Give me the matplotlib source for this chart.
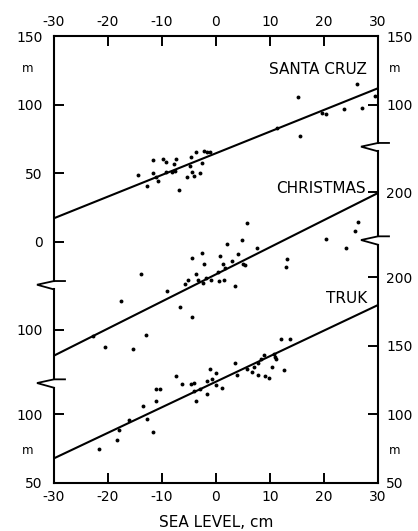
import matplotlib
matplotlib.use('Agg')
import matplotlib.pyplot as plt
from matplotlib.transforms import blended_transform_factory
import numpy as np

plt.rcParams['font.family'] = ['DejaVu Sans']
plt.rcParams['axes.unicode_minus'] = False

# ---------------- data (sea level in cm, dynamic height in m) ----------------
sc_x = [-14.4, -12.7, -11.7, -11.6, -11.2, -10.7, -9.9, -9.35, -9.3, -8.2,
        -7.7, -7.4, -7.6, -6.8, -5.4, -4.7, -4.8, -4.4, -4.1, -3.7,
        -3.0, -2.65, -2.2, -1.6, -1.2, 11.35, 15.2, 15.5, 19.7, 20.3,
        23.7, 26.2, 27.1, 29.4]
sc_y = [48.5, 40.5, 50.4, 59.3, 47.5, 44.5, 60.5, 58.0, 50.9, 50.9,
        56.9, 60.5, 51.5, 37.5, 47.2, 61.8, 55.5, 51.1, 47.7, 65.3,
        50.1, 57.4, 65.9, 65.4, 65.3, 82.9, 105.4, 76.8, 93.8, 93.3,
        96.7, 114.9, 97.4, 105.9]

ch_x = [-22.8, -20.6, -17.65, -15.3, -13.8, -13.0, -9.0, -6.7, -5.7, -5.1,
        -4.4, -4.4, -3.7, -3.3, -2.65, -2.5, -2.2, -1.9, -1.0, 0.4,
        0.6, 0.75, 1.35, 1.5, 1.75, 2.0, 2.9, 3.5, 4.0, 4.8,
        5.05, 5.4, 5.7, 7.65, 12.96, 13.2, 20.3, 24.0, 25.7, 26.35]
ch_y = [95.1, 87.1, 120.5, 85.5, 140.7, 96.2, 128.0, 116.4, 133.1, 136.5,
        109.1, 152.2, 140.6, 136.5, 155.9, 134.0, 147.6, 137.7, 136.5, 142.2,
        135.3, 153.3, 148.0, 136.0, 144.7, 162.5, 149.8, 131.6, 154.9, 165.1,
        148.1, 147.4, 177.7, 159.3, 145.7, 151.1, 165.8, 159.5, 172.0, 178.4]

tr_x = [-21.6, -18.4, -17.9, -16.2, -13.6, -12.7, -11.7, -11.1, -11.1, -10.4,
        -7.5, -6.35, -4.7, -4.1, -4.1, -3.7, -3.0, -1.7, -1.6, -1.1,
        -0.7, -0.05, 0.0, 1.2, 3.5, 3.8, 5.7, 6.6, 7.1, 7.8,
        7.8, 8.3, 8.9, 9.1, 9.8, 10.3, 10.65, 10.9, 11.1, 12.5,
        12.0, 13.7]
tr_y = [74.5, 81.1, 88.8, 95.8, 106.4, 96.5, 87.1, 109.9, 118.2, 118.5,
        128.2, 122.2, 122.0, 123.2, 117.3, 109.9, 118.9, 124.2, 114.7, 133.3,
        125.6, 130.0, 121.3, 119.6, 137.5, 128.9, 132.9, 130.7, 134.4, 128.5,
        137.5, 140.7, 143.7, 127.8, 126.4, 134.6, 144.3, 141.9, 140.2, 132.7,
        155.2, 155.2]

fit_x = [-30, 30]
sc_fit = [17.1, 111.9]
ch_fit = [81.0, 199.6]
tr_fit = [68.0, 179.8]

x_ticks = [-30, -20, -10, 0, 10, 20, 30]

# left / right axis tick values per station
sc_left_ticks = [150, 100, 50, 0]
ch_left_ticks = [100]
tr_left_ticks = [100, 50]
sc_right_ticks = [150, 100]
ch_right_ticks = [200]
tr_right_ticks = [200, 150, 100, 50]

# vertical offsets stacking the three station scales on one common axis
OFF_SC = 226.0
OFF_CH = 61.9
OFF_TR = 0.0
YMIN, YMAX = 50, 376

# ---------------- figure ----------------
W, H = 418, 531
fig = plt.figure(figsize=(W / 100, H / 100), dpi=100)
L, R, T, B = 54, 378, 36, 483
ax = fig.add_axes([L / W, 1 - B / H, (R - L) / W, (B - T) / H])
ax.set_xlim(-30, 30)
ax.set_ylim(YMIN, YMAX)

lw = 1.5
ms = 2.8

for xs, ys, fit, off in [(sc_x, sc_y, sc_fit, OFF_SC),
                         (ch_x, ch_y, ch_fit, OFF_CH),
                         (tr_x, tr_y, tr_fit, OFF_TR)]:
    ax.plot(xs, np.array(ys) + off, 'o', ms=ms, color='black', mec='none')
    ax.plot(fit_x, np.array(fit) + off, '-', color='black', lw=1.5,
            solid_capstyle='butt')

# x axis on both top and bottom
ax.set_xticks(x_ticks)
ax.set_xticklabels([str(v) for v in x_ticks])
ax.tick_params(axis='x', which='both', direction='in', top=True, bottom=True,
               labeltop=True, labelbottom=True, length=7, width=1.4,
               labelsize=10, pad=5)

# left axis
lt = [v + OFF_SC for v in sc_left_ticks] + [v + OFF_CH for v in ch_left_ticks] + \
     [v + OFF_TR for v in tr_left_ticks]
ll = [str(v) for v in sc_left_ticks + ch_left_ticks + tr_left_ticks]
ax.set_yticks(lt)
ax.set_yticklabels(ll)
ax.tick_params(axis='y', direction='in', length=7, width=1.4, labelsize=10, pad=8)

# right axis
ax2 = ax.twinx()
ax2.set_ylim(YMIN, YMAX)
rt = [v + OFF_SC for v in sc_right_ticks] + [v + OFF_CH for v in ch_right_ticks] + \
     [v + OFF_TR for v in tr_right_ticks]
rl = [str(v) for v in sc_right_ticks + ch_right_ticks + tr_right_ticks]
ax2.set_yticks(rt)
ax2.set_yticklabels(rl)
ax2.tick_params(axis='y', direction='in', length=7, width=1.4, labelsize=10, pad=6)

for a in (ax, ax2):
    for s in ('left', 'right'):
        a.spines[s].set_visible(False)
for s in ('top', 'bottom'):
    ax2.spines[s].set_visible(False)
    ax.spines[s].set_linewidth(lw)

# broken side spines
tb = blended_transform_factory(ax.transAxes, ax.transData)
pxx = 1.0 / (R - L)
pxy = (YMAX - YMIN) / (B - T)

def side(xa, breaks):
    tops = [YMAX]
    bots = []
    for yc in breaks:
        bots.append(yc + 3.7 * pxy)
        tops.append(yc - 4.7 * pxy)
        xs = [xa + 11 * pxx, xa, xa - 17 * pxx, xa]
        ys = [yc + 3.7 * pxy, yc + 3.7 * pxy, yc, yc - 4.7 * pxy]
        ax.plot(xs, ys, transform=tb, color='black', lw=1.3, clip_on=False,
                solid_joinstyle='miter')
    bots.append(YMIN)
    for y0, y1 in zip(tops, bots):
        ax.plot([xa, xa], [y0, y1], transform=tb, color='black', lw=lw,
                clip_on=False, solid_capstyle='projecting')

side(0.0, [194.6, 122.9])
side(1.0, [295.3, 227.2])

# unit labels
for xa in (-0.080, 1.052):
    for yy in (352, 74):
        ax.text(xa, yy, 'm', transform=tb, fontsize=8.5, ha='center', va='center')

# station labels
ax.text(28.0, 348.3, 'SANTA CRUZ', fontsize=11, ha='right', va='baseline')
ax.text(27.8, 261.7, 'CHRISTMAS', fontsize=11, ha='right', va='baseline')
ax.text(28.1, 181.1, 'TRUK', fontsize=11, ha='right', va='baseline')

ax.set_xlabel('SEA LEVEL, cm', fontsize=11, labelpad=8)

fig.savefig('out.png', dpi=100)
